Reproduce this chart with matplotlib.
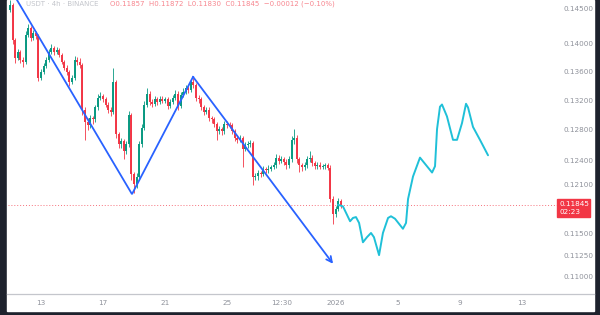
import numpy as np
import pandas as pd
import matplotlib
matplotlib.use("Agg")
import matplotlib.pyplot as plt
from matplotlib.patches import Rectangle

# 4h candles (open of each candle = previous close)
first_open = 0.1449
closes = [0.1456, 0.1404, 0.1379, 0.1387, 0.1376, 0.1373, 0.1412, 0.1422, 0.1407, 0.1415,
          0.1410, 0.1351, 0.1359, 0.1367, 0.1376, 0.1387, 0.1393, 0.1387, 0.1390, 0.1383,
          0.1373, 0.1365, 0.1359, 0.1345, 0.1351, 0.1376, 0.1373, 0.1369, 0.1307, 0.1291,
          0.1287, 0.1296, 0.1294, 0.1310, 0.1323, 0.1326, 0.1321, 0.1314, 0.1307, 0.1304,
          0.1345, 0.1274, 0.1261, 0.1265, 0.1252, 0.1261, 0.1300, 0.1223, 0.1210, 0.1219,
          0.1261, 0.1283, 0.1314, 0.1329, 0.1318, 0.1315, 0.1321, 0.1318, 0.1322, 0.1319,
          0.1321, 0.1312, 0.1318, 0.1323, 0.1329, 0.1312, 0.1327, 0.1331, 0.1337, 0.1334,
          0.1345, 0.1341, 0.1323, 0.1321, 0.1310, 0.1304, 0.1307, 0.1296, 0.1294, 0.1288,
          0.1278, 0.1281, 0.1278, 0.1288, 0.1287, 0.1286, 0.1278, 0.1270, 0.1267, 0.1269,
          0.1255, 0.1260, 0.1261, 0.1263, 0.1219, 0.1220, 0.1224, 0.1223, 0.1229, 0.1228,
          0.1230, 0.1232, 0.1234, 0.1244, 0.1240, 0.1242, 0.1239, 0.1234, 0.1242, 0.1267,
          0.1270, 0.1242, 0.1234, 0.1232, 0.1234, 0.1242, 0.1244, 0.1237, 0.1233, 0.1235,
          0.1232, 0.1233, 0.1234, 0.1231, 0.1192, 0.1174, 0.1180, 0.1189, 0.11845]
highs = [0.1463, 0.1459, 0.1407, 0.1392, 0.1390, 0.1380, 0.1418, 0.1427, 0.1425, 0.1419,
         0.1418, 0.1413, 0.1363, 0.1371, 0.1380, 0.1391, 0.1398, 0.1396, 0.1394, 0.1393,
         0.1386, 0.1376, 0.1368, 0.1362, 0.1355, 0.1382, 0.1380, 0.1378, 0.1372, 0.1310,
         0.1296, 0.1300, 0.1299, 0.1314, 0.1328, 0.1331, 0.1329, 0.1324, 0.1317, 0.1311,
         0.1365, 0.1348, 0.1277, 0.1269, 0.1268, 0.1265, 0.1305, 0.1303, 0.1226, 0.1224,
         0.1266, 0.1288, 0.1319, 0.1336, 0.1332, 0.1321, 0.1325, 0.1324, 0.1326, 0.1325,
         0.1324, 0.1324, 0.1322, 0.1327, 0.1334, 0.1332, 0.1331, 0.1336, 0.1341, 0.1340,
         0.1349, 0.1351, 0.1344, 0.1327, 0.1324, 0.1313, 0.1311, 0.1310, 0.1299, 0.1297,
         0.1291, 0.1285, 0.1284, 0.1292, 0.1292, 0.1290, 0.1289, 0.1281, 0.1273, 0.1273,
         0.1272, 0.1264, 0.1265, 0.1267, 0.1266, 0.1224, 0.1228, 0.1227, 0.1233, 0.1232,
         0.1234, 0.1235, 0.1238, 0.1248, 0.1247, 0.1246, 0.1245, 0.1242, 0.1246, 0.1272,
         0.1281, 0.1273, 0.1245, 0.1237, 0.1238, 0.1246, 0.1252, 0.1247, 0.1240, 0.1239,
         0.1238, 0.1236, 0.1237, 0.1237, 0.1234, 0.1196, 0.1184, 0.1193, 0.1192]
lows = [0.1446, 0.1398, 0.1372, 0.1375, 0.1371, 0.1366, 0.1370, 0.1409, 0.1403, 0.1404,
        0.1406, 0.1346, 0.1347, 0.1356, 0.1364, 0.1373, 0.1384, 0.1383, 0.1384, 0.1380,
        0.1370, 0.1361, 0.1355, 0.1340, 0.1342, 0.1348, 0.1368, 0.1365, 0.1300, 0.1267,
        0.1280, 0.1283, 0.1288, 0.1291, 0.1307, 0.1320, 0.1317, 0.1310, 0.1303, 0.1299,
        0.1301, 0.1269, 0.1256, 0.1257, 0.1242, 0.1249, 0.1258, 0.1216, 0.1199, 0.1206,
        0.1216, 0.1258, 0.1280, 0.1311, 0.1314, 0.1310, 0.1312, 0.1314, 0.1315, 0.1316,
        0.1316, 0.1308, 0.1309, 0.1315, 0.1320, 0.1306, 0.1309, 0.1324, 0.1328, 0.1330,
        0.1331, 0.1337, 0.1319, 0.1316, 0.1306, 0.1300, 0.1301, 0.1292, 0.1289, 0.1284,
        0.1267, 0.1274, 0.1273, 0.1275, 0.1283, 0.1282, 0.1274, 0.1266, 0.1263, 0.1264,
        0.1232, 0.1252, 0.1257, 0.1258, 0.1209, 0.1215, 0.1216, 0.1219, 0.1220, 0.1224,
        0.1225, 0.1227, 0.1229, 0.1231, 0.1236, 0.1237, 0.1235, 0.1229, 0.1231, 0.1239,
        0.1262, 0.1237, 0.1226, 0.1227, 0.1228, 0.1231, 0.1238, 0.1233, 0.1229, 0.1230,
        0.1229, 0.1229, 0.1230, 0.1228, 0.1188, 0.1162, 0.1170, 0.1177, 0.1181]

# drawn trend lines (day offset from Dec 13, price)
trend_days = [-1.94, 5.87, 9.81]
trend_prices = [0.1479, 0.1198, 0.1352]
arrow_day, arrow_price = 18.84, 0.1115

# projected path
proj_days = [19.16, 19.48, 19.94, 20.13, 20.32, 20.52, 20.77, 21.03, 21.29, 21.48,
             21.81, 22.06, 22.39, 22.58, 22.84, 23.35, 23.55, 23.68, 24.00, 24.45,
             24.90, 25.23, 25.42, 25.55, 25.74, 25.87, 26.19, 26.58, 26.84, 27.16,
             27.42, 27.55, 27.87, 28.32, 28.84]
proj_prices = [0.1185, 0.1183, 0.1165, 0.1169, 0.1170, 0.1163, 0.1140, 0.1146, 0.1151, 0.1146,
               0.1125, 0.1151, 0.1169, 0.1171, 0.1168, 0.1156, 0.1163, 0.1192, 0.1220, 0.1244,
               0.1233, 0.1225, 0.1233, 0.1281, 0.1311, 0.1314, 0.1298, 0.1267, 0.1267, 0.1289,
               0.1315, 0.1310, 0.1284, 0.1267, 0.1247]

last_price = 0.11845
price_ticks = [0.145, 0.14, 0.136, 0.132, 0.128, 0.124, 0.121, 0.115, 0.1125, 0.11]
date_tick_days = [0, 4, 8, 12, 15.52, 19, 23, 27, 31]
date_tick_labels = ["13", "17", "21", "25", "12:30", "2026", "5", "9", "13"]

up_col = "#089981"
down_col = "#f23645"
text_col = "#8f929b"

base = pd.Timestamp("2025-12-13")
times = pd.date_range("2025-12-11", periods=len(closes), freq="4h")
x = ((times - base) / pd.Timedelta("1D")).to_numpy()
c = np.array(closes)
o = np.concatenate([[first_open], c[:-1]])
colors = np.where(c >= o, up_col, down_col)

fig = plt.figure(figsize=(6, 3.15), dpi=100, facecolor="#1e222d")
panel = Rectangle((7 / 600, 4 / 315), 587 / 600, 311 / 315,
                  transform=fig.transFigure, color="white", zorder=-5)
fig.patches.append(panel)

ax = fig.add_axes([8 / 600, 21 / 315, 549 / 600, 294 / 315])
ax.set_zorder(2)
ax.patch.set_alpha(0)
ax.set_yscale("log")
ax.set_ylim(0.10808, 0.14635)
ax.set_xlim(-2.13, 33.29)

ax.vlines(x, lows, highs, colors=colors, lw=0.6)
ax.vlines(x, np.minimum(o, c), np.maximum(o, c), colors=colors, lw=1.4)

ax.axhline(last_price, color=down_col, ls=(0, (1, 2)), lw=0.7, alpha=0.7)

ax.plot(trend_days, trend_prices, color="#2962ff", lw=1.3, solid_joinstyle="miter")
ax.annotate("", xy=(arrow_day, arrow_price), xytext=(trend_days[-1], trend_prices[-1]),
            arrowprops=dict(arrowstyle="->", color="#2962ff", lw=1.3,
                            shrinkA=0, shrinkB=0, mutation_scale=10))

ax.plot(proj_days, proj_prices, color="#1fc0d8", lw=1.4, solid_joinstyle="round",
        solid_capstyle="round")

for s in ax.spines.values():
    s.set_visible(False)
ax.yaxis.tick_right()
ax.set_yticks(price_ticks)
ax.set_yticklabels(["%.5f" % p for p in price_ticks])
ax.yaxis.set_minor_locator(matplotlib.ticker.NullLocator())
ax.tick_params(axis="y", length=0, pad=4.5, labelsize=5.2, labelcolor=text_col)
ax.set_xticks(date_tick_days)
ax.set_xticklabels(date_tick_labels)
ax.tick_params(axis="x", length=0, pad=4.5, labelsize=5.2, labelcolor=text_col)

# bottom separator of the time axis
fig.add_artist(plt.Line2D([7 / 600, 594 / 600], [21 / 315, 21 / 315],
                          transform=fig.transFigure, color="#c4c6cc", lw=0.9))

# last price tag
fig.patches.append(Rectangle((557 / 600, (315 - 217) / 315), 33 / 600, 18 / 315,
                             transform=fig.transFigure, color=down_col, zorder=5))
fig.text(560 / 600, (315 - 204) / 315, "0.11845", color="white", fontsize=5.2,
         va="center", ha="left", zorder=6)
fig.text(560 / 600, (315 - 212) / 315, "02:23", color="white", fontsize=5.2,
         va="center", ha="left", zorder=6)

# header line
fig.text(26 / 600, 1 - 4 / 315, "USDT · 4h · BINANCE", color="#c3c5cb",
         fontsize=5, va="center", ha="left")
fig.text(110 / 600, 1 - 4 / 315, "O0.11857  H0.11872  L0.11830  C0.11845  −0.00012 (−0.10%)",
         color=down_col, fontsize=5, va="center", ha="left", alpha=0.6)

fig.savefig("out.png", dpi=100, facecolor=fig.get_facecolor())
